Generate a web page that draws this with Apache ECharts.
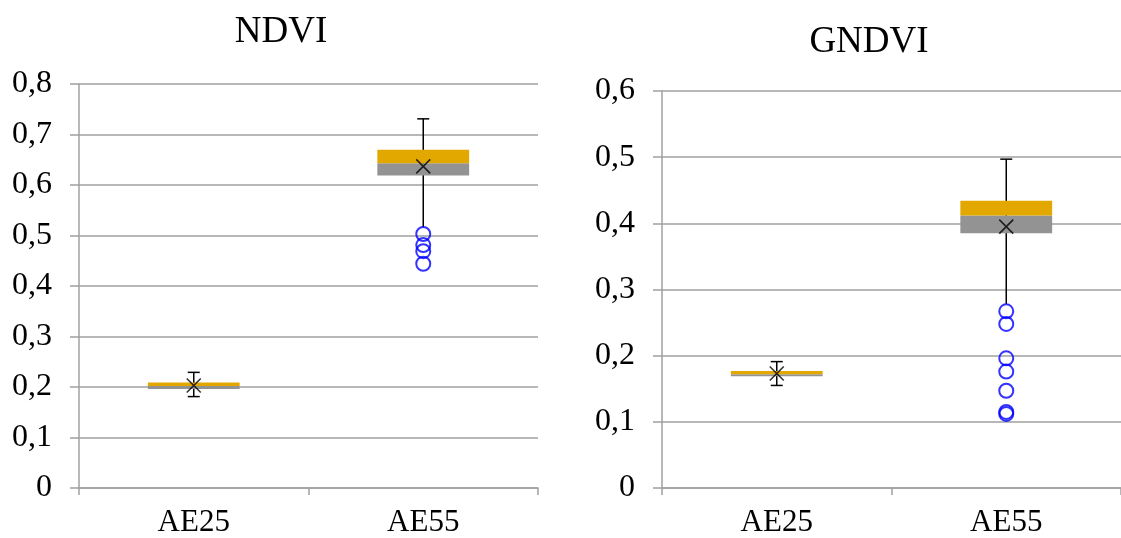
<!DOCTYPE html>
<html>
<head>
<meta charset="utf-8">
<script src="https://cdn.jsdelivr.net/npm/echarts@6/dist/echarts.min.js"></script>
<style>html,body{margin:0;padding:0;background:#fff}#c{width:1121px;height:538px}</style>
</head>
<body>
<div id="c"></div>
<script>
const categories = ['AE25', 'AE55'];
const titles = ['NDVI', 'GNDVI'];
// [min, q1, median, q3, max] per category
const ndviBox = [[0.181, 0.196, 0.202, 0.209, 0.229], [0.517, 0.619, 0.643, 0.670, 0.731]];
const ndviMean = [0.203, 0.637];
const ndviOutliersAE55 = [0.503, 0.481, 0.469, 0.444];
const gndviBox = [[0.155, 0.169, 0.172, 0.177, 0.191], [0.278, 0.385, 0.412, 0.434, 0.497]];
const gndviMean = [0.173, 0.395];
const gndviOutliersAE55 = [0.267, 0.248, 0.196, 0.176, 0.147, 0.115, 0.112];
const yMax = [0.8, 0.6];
const yInterval = 0.1;

const FONT = "'Liberation Serif','Times New Roman',serif";
const GRIDC = '#a0a0a0';
const YELLOW = '#e3a800';
const GRAY = '#939393';

function makeRenderBox(outlierCats) {
  return function (params, api) {
    const x = api.value(0);
    const pMin = api.coord([x, api.value(1)]);
    const pQ1 = api.coord([x, api.value(2)]);
    const pMed = api.coord([x, api.value(3)]);
    const pQ3 = api.coord([x, api.value(4)]);
    const pMax = api.coord([x, api.value(5)]);
    const band = api.size([1, 0])[0];
    const hw = band * 0.2;
    const cap = 6;
    const cx = pMed[0];
    const ls = {stroke: '#000', lineWidth: 1.5};
    const children = [
      {type: 'line', shape: {x1: cx, y1: pMax[1], x2: cx, y2: pMin[1]}, style: ls},
      {type: 'line', shape: {x1: cx - cap, y1: pMax[1], x2: cx + cap, y2: pMax[1]}, style: ls}
    ];
    if (outlierCats.indexOf(x) < 0) {
      children.push({type: 'line', shape: {x1: cx - cap, y1: pMin[1], x2: cx + cap, y2: pMin[1]}, style: ls});
    }
    children.push({type: 'rect', shape: {x: cx - hw, y: pMed[1], width: 2 * hw, height: pQ1[1] - pMed[1]}, style: {fill: GRAY}});
    children.push({type: 'rect', shape: {x: cx - hw, y: pQ3[1], width: 2 * hw, height: pMed[1] - pQ3[1]}, style: {fill: YELLOW}});
    return {type: 'group', children: children};
  };
}

function boxData(arr) { return arr.map((b, i) => [i].concat(b)); }
function meanData(arr) { return arr.map((v, i) => [i, v]); }
function outData(arr, idx) { return arr.map(v => [idx, v]); }

const grids = [
  {left: 79, top: 84, width: 459, height: 405},
  {left: 662, top: 91, width: 465, height: 398}
];

const xAxes = grids.map((g, i) => ({
  type: 'category', gridIndex: i, data: categories,
  axisLine: {lineStyle: {color: GRIDC, width: 1.5}},
  axisTick: {show: true, alignWithLabel: false, length: 7, lineStyle: {color: GRIDC, width: 1.5}},
  axisLabel: {color: '#000', fontFamily: FONT, fontSize: 31, margin: 19},
  splitLine: {show: false}
}));

const yAxes = grids.map((g, i) => ({
  type: 'value', gridIndex: i, min: 0, max: yMax[i], interval: yInterval,
  axisLine: {show: true, lineStyle: {color: GRIDC, width: 1.5}},
  axisTick: {show: true, length: 9, lineStyle: {color: GRIDC, width: 1.5}},
  splitLine: {show: true, lineStyle: {color: GRIDC, width: 1.5}},
  axisLabel: {color: '#000', fontFamily: FONT, fontSize: 32, margin: 27,
    formatter: v => (Math.round(v * 10) / 10).toString().replace('.', ',')}
}));

const boxes = [ndviBox, gndviBox];
const means = [ndviMean, gndviMean];
const outs = [ndviOutliersAE55, gndviOutliersAE55];
const series = [];
for (let i = 0; i < 2; i++) {
  series.push({type: 'custom', xAxisIndex: i, yAxisIndex: i, renderItem: makeRenderBox([1]),
    data: boxData(boxes[i]), encode: {x: 0, y: [1, 2, 3, 4, 5]}, z: 2, silent: true});
  series.push({type: 'scatter', xAxisIndex: i, yAxisIndex: i, data: outData(outs[i], 1),
    symbol: 'circle', symbolSize: 14,
    itemStyle: {color: 'rgba(0,0,0,0)', borderColor: '#0000ff', borderWidth: 2}, z: 4, silent: true});
  series.push({type: 'scatter', xAxisIndex: i, yAxisIndex: i, data: meanData(means[i]),
    symbol: 'path://M0,0L10,10M10,0L0,10', symbolSize: 14,
    itemStyle: {color: 'none', borderColor: '#000', borderWidth: 1.6}, z: 5, silent: true});
}

const chart = echarts.init(document.getElementById('c'), null, {renderer: 'canvas'});
chart.setOption({
  animation: false,
  backgroundColor: '#fff',
  title: [
    {text: titles[0], left: 276, top: 9, textAlign: 'center', textStyle: {fontFamily: FONT, fontSize: 37, fontWeight: 'normal', color: '#000'}},
    {text: titles[1], left: 864, top: 19, textAlign: 'center', textStyle: {fontFamily: FONT, fontSize: 37, fontWeight: 'normal', color: '#000'}}
  ],
  grid: grids,
  xAxis: xAxes,
  yAxis: yAxes,
  series: series
});
</script>
</body>
</html>
